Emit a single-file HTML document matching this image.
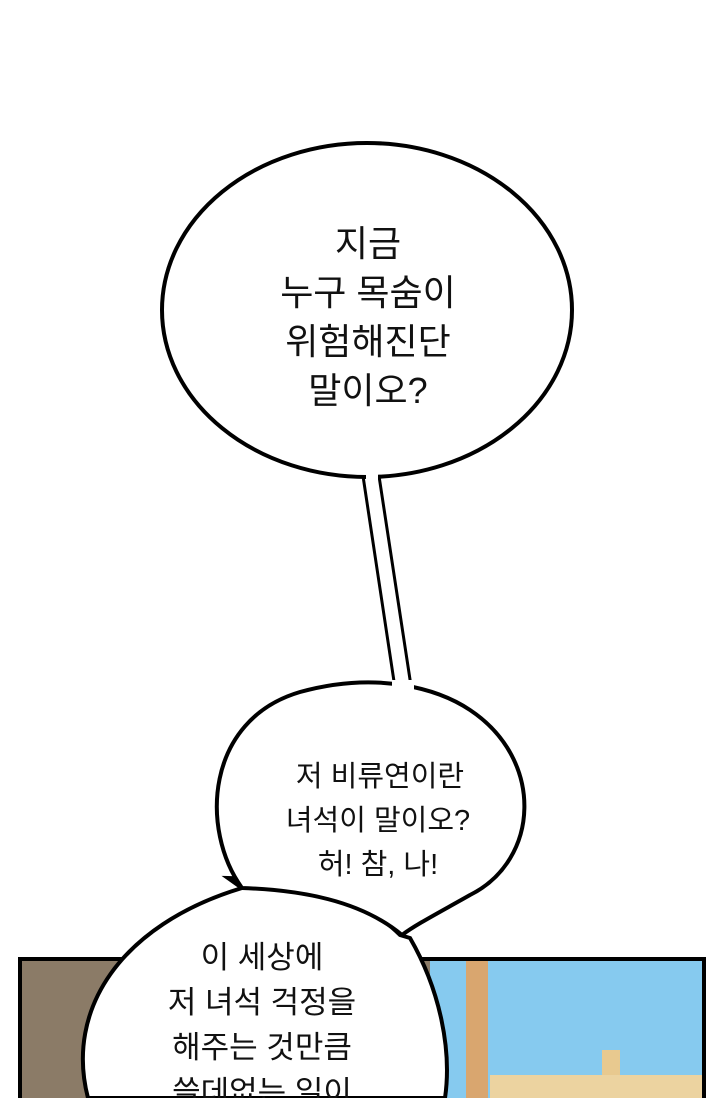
<!DOCTYPE html>
<html><head><meta charset="utf-8"><style>
body{margin:0;width:720px;height:1098px;overflow:hidden;background:#fff}
svg{display:block}
text{font-family:"Liberation Sans","Noto Sans CJK KR","NanumGothic",sans-serif;fill:#111;text-anchor:middle}
</style></head><body>
<svg width="720" height="1098" viewBox="0 0 720 1098">
<rect x="18" y="957" width="688" height="150" fill="#000"/>
<rect x="22" y="961" width="420" height="140" fill="#8b7b67"/>
<rect x="430" y="961" width="272" height="140" fill="#86caef"/>
<rect x="466" y="961" width="22" height="140" fill="#d9a66f"/>
<rect x="602" y="1050" width="18" height="50" fill="#e8c98f"/>
<rect x="490" y="1075" width="212" height="25" fill="#ecd3a0"/>
<!-- bottom bubble -->
<path d="M88,1098 C65,1010 120,925 242,888 L228,878 C300,880 360,895 400,935 L410,938 C440,990 452,1050 445,1098 Z" fill="#fff" stroke="#000" stroke-width="4"/>
<!-- middle bubble -->
<path d="M242,888 C200,830 205,720 300,692 C380,670 440,690 470,710 C545,760 540,860 470,895 C440,912 415,925 402,935 C360,900 300,890 242,888 Z" fill="#fff" stroke="#000" stroke-width="4"/>
<!-- tail -->
<path d="M363,476 L395,688 L411,686 L379,476" fill="#fff" stroke="#000" stroke-width="3"/>
<ellipse cx="367" cy="310" rx="205" ry="167" fill="#fff" stroke="#000" stroke-width="4"/>
<rect x="366" y="472" width="12" height="10" fill="#fff"/>
<rect x="392" y="680" width="22" height="14" fill="#fff"/>
<g font-size="36">
<text x="368" y="256">지금</text>
<text x="368" y="305">누구 목숨이</text>
<text x="368" y="354">위험해진단</text>
<text x="368" y="403">말이오?</text>
</g>
<g font-size="29">
<text x="380" y="786">저 비류연이란</text>
<text x="378" y="830">녀석이 말이오?</text>
<text x="378" y="874">허! 참, 나!</text>
</g>
<g font-size="31">
<text x="262" y="968">이 세상에</text>
<text x="262" y="1013">저 녀석 걱정을</text>
<text x="262" y="1058">해주는 것만큼</text>
<text x="262" y="1103">쓸데없는 일이</text>
</g>
</svg>
</body></html>
